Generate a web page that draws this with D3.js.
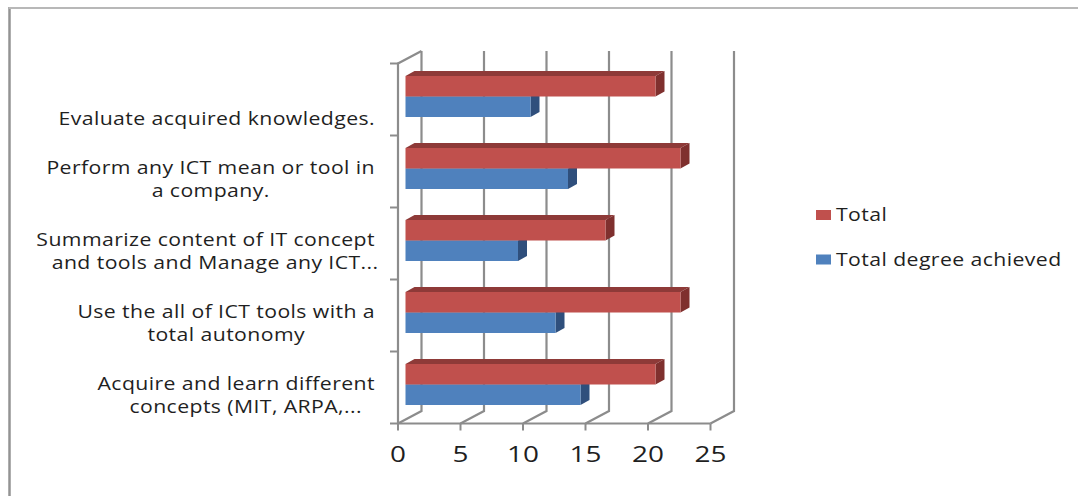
<!DOCTYPE html>
<html>
<head>
<meta charset="utf-8">
<script src="https://cdn.jsdelivr.net/npm/d3@7"></script>
<style>
  html, body { margin: 0; padding: 0; background: #fff; }
  text { font-family: "Open Sans", "Noto Sans", sans-serif; fill: #1f1f1f; }
</style>
</head>
<body>
<svg id="chart" width="1078" height="496"></svg>
<script>
// Categories run bottom to top, as the vertical axis of the bar chart does.
const categories = [
  ["Acquire and learn different", "concepts (MIT, ARPA,..."],
  ["Use the all of ICT tools with a", "total autonomy"],
  ["Summarize content of IT concept", "and tools and Manage any ICT..."],
  ["Perform any ICT mean or tool in", "a company."],
  ["Evaluate acquired knowledges."]
];
const totalValues = [20, 22, 16, 22, 20];
const achievedValues = [14, 12, 9, 13, 10];
const seriesNames = ["Total", "Total degree achieved"];
const xTicks = [0, 5, 10, 15, 20, 25];

const faceColors = { Total: "#c0504d", "Total degree achieved": "#4f81bd" };
const topColors = { Total: "#8e3a38", "Total degree achieved": "#3f6797" };
const sideColors = { Total: "#7f302e", "Total degree achieved": "#2f4f7c" };
const wallColor = "#8c8c8c";
const textStretch = 1.18;

const svg = d3.select("#chart");

// Outer frame of the chart area: a darker left edge and a lighter top edge.
svg.append("line").attr("x1", 9.5).attr("x2", 9.5).attr("y1", 7).attr("y2", 496)
  .attr("stroke", "#939393").attr("stroke-width", 2.5);
svg.append("line").attr("x1", 9).attr("x2", 1078).attr("y1", 8).attr("y2", 8)
  .attr("stroke", "#b8b8b8").attr("stroke-width", 2);

// Oblique projection: the wall sits behind the front plane by this offset.
const wallDx = 23.5, wallDy = -12.5;
const x = d3.scaleLinear().domain([0, 25]).range([398, 710.5]);
const y = d3.scaleBand().domain(d3.range(categories.length)).range([423.5, 63.5]);
const inner = d3.scaleBand().domain(seriesNames).range([12.5, 53.5]);

const wall = svg.append("g").attr("fill", "none").attr("stroke", wallColor);

// Back-wall gridlines and their run across the floor.
wall.selectAll(".grid").data(xTicks).join("path")
  .attr("class", "grid")
  .attr("stroke-width", 2.2)
  .attr("d", d => d3.line()([
    [x(d) + wallDx, y.range()[1] + wallDy],
    [x(d) + wallDx, y.range()[0] + wallDy],
    [x(d), y.range()[0]]
  ]));

// Front edges of the floor and the side wall, plus tick marks.
wall.append("path")
  .attr("stroke-width", 2.2)
  .attr("d", d3.line()([
    [x(0) + wallDx, y.range()[1] + wallDy],
    [x(0), y.range()[1]],
    [x(0), y.range()[0]],
    [x(25), y.range()[0]]
  ]));
wall.selectAll(".xtick").data(xTicks).join("line")
  .attr("class", "xtick").attr("stroke-width", 2)
  .attr("x1", d => x(d)).attr("x2", d => x(d))
  .attr("y1", y.range()[0]).attr("y2", y.range()[0] + 7);
wall.selectAll(".ytick").data(d3.range(categories.length + 1)).join("line")
  .attr("class", "ytick").attr("stroke-width", 2)
  .attr("x1", x(0) - 8).attr("x2", x(0))
  .attr("y1", i => y.range()[0] - i * y.step())
  .attr("y2", i => y.range()[0] - i * y.step());

// Tick labels under the floor, drawn wide.
svg.selectAll(".xlabel").data(xTicks).join("text")
  .attr("class", "xlabel")
  .attr("transform", d => `translate(${x(d)},462) scale(1.27,1)`)
  .attr("text-anchor", "middle").attr("font-size", 22)
  .text(d => d);

// Right-aligned category labels; a wrapped second line is centred under the
// first, and a truncated one keeps room for its dropped words on the left.
const lineGap = 22.8;
const truncatedShift = 8;
const catLabels = svg.selectAll(".cat").data(categories).join("text")
  .attr("class", "cat")
  .attr("font-size", 18)
  .attr("letter-spacing", 0.35)
  .attr("text-anchor", "end")
  .attr("transform", (lines, i) => {
    const mid = y(i) + y.bandwidth() / 2;
    const firstBaseline = lines.length > 1 ? mid + 2.4 : mid + 25.5;
    return `translate(375,${firstBaseline}) scale(${textStretch},1)`;
  });
catLabels.each(function (lines) {
  const spans = d3.select(this).selectAll("tspan").data(lines).join("tspan")
    .attr("x", 0)
    .attr("y", (l, j) => j * lineGap)
    .text(l => l)
    .nodes();
  if (spans.length > 1) {
    const w0 = spans[0].getComputedTextLength();
    const w1 = spans[1].getComputedTextLength();
    const shift = lines[1].endsWith("...") ? truncatedShift : 0;
    d3.select(spans[1]).attr("x", (w1 - w0) / 2 + shift);
  }
});

// Bars as three-faced prisms; lower series first so the upper one overlaps it.
const barDx = 9, barDy = -5;
const barInset = 7.5;

function drawSeries(name, values) {
  const g = svg.append("g");
  const barH = inner.bandwidth();
  const base = x(0) + barInset;
  const rows = values.map((v, i) => ({
    x1: x(v) + barInset,
    y0: y(i) + inner(name)
  }));
  g.selectAll(".top").data(rows).join("polygon").attr("class", "top")
    .attr("fill", topColors[name])
    .attr("points", d => [[base, d.y0], [base + barDx, d.y0 + barDy], [d.x1 + barDx, d.y0 + barDy], [d.x1, d.y0]].join(" "));
  g.selectAll(".side").data(rows).join("polygon").attr("class", "side")
    .attr("fill", sideColors[name])
    .attr("points", d => [[d.x1, d.y0], [d.x1 + barDx, d.y0 + barDy], [d.x1 + barDx, d.y0 + barH + barDy], [d.x1, d.y0 + barH]].join(" "));
  g.selectAll(".face").data(rows).join("rect").attr("class", "face")
    .attr("fill", faceColors[name])
    .attr("x", base).attr("y", d => d.y0)
    .attr("width", d => d.x1 - base).attr("height", barH);
}
drawSeries("Total degree achieved", achievedValues);
drawSeries("Total", totalValues);

// Legend.
const legendY = d3.scalePoint().domain(seriesNames).range([215, 259.5]);
const legend = svg.selectAll(".legend").data(seriesNames).join("g")
  .attr("class", "legend")
  .attr("transform", d => `translate(816,${legendY(d)})`);
legend.append("rect").attr("y", -5).attr("width", 15).attr("height", 10)
  .attr("fill", d => faceColors[d]);
legend.append("text")
  .attr("transform", `translate(20,6) scale(${textStretch},1)`)
  .attr("font-size", 18).attr("letter-spacing", 0.35)
  .text(d => d);
</script>
</body>
</html>
